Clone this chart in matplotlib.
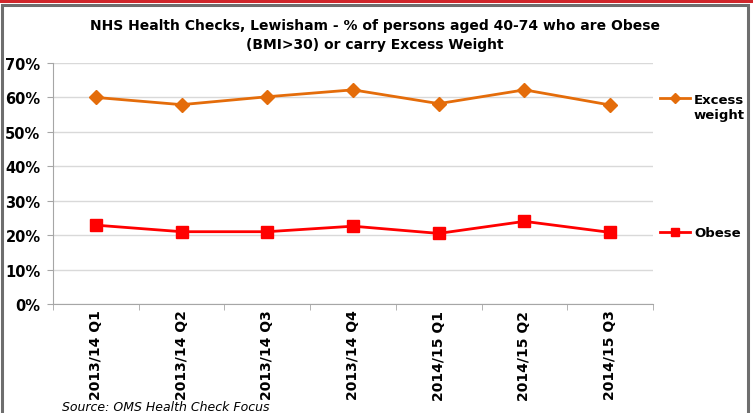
import matplotlib.pyplot as plt
from matplotlib.patches import Rectangle
from matplotlib.lines import Line2D
from matplotlib.ticker import PercentFormatter

plt.rcParams['font.family'] = 'DejaVu Sans'

# Data
quarters = ['2013/14 Q1', '2013/14 Q2', '2013/14 Q3', '2013/14 Q4',
            '2014/15 Q1', '2014/15 Q2', '2014/15 Q3']
excess_weight = [60.0, 57.9, 60.2, 62.2, 58.2, 62.2, 57.8]
obese = [22.9, 21.0, 21.0, 22.6, 20.5, 24.0, 20.8]

orange = '#E46C0A'
red = '#FF0000'

fig = plt.figure(figsize=(7.53, 4.14), dpi=100)
ax = fig.add_axes([0.0704, 0.2633, 0.7968, 0.5821])

x = range(len(quarters))
ax.plot(x, excess_weight, color=orange, lw=2, marker='D', markersize=7, zorder=3)
ax.plot(x, obese, color=red, lw=2, marker='s', markersize=8, zorder=3)

ax.set_xlim(-0.5, len(quarters) - 0.5)
ax.set_ylim(0, 70)
ax.set_yticks(range(0, 71, 10))
ax.yaxis.set_major_formatter(PercentFormatter(decimals=0))
ax.grid(axis='y', color='#D9D9D9', lw=1)
ax.set_axisbelow(True)

ax.set_xticks(list(x))
ax.set_xticklabels(quarters, rotation=90, fontsize=10, fontweight='bold')
ax.set_xticks([i - 0.5 for i in range(len(quarters) + 1)], minor=True)
ax.tick_params(axis='x', which='major', length=0, pad=4)
ax.tick_params(axis='x', which='minor', length=4, color='#A6A6A6')
ax.tick_params(axis='y', length=4, color='#A6A6A6', labelsize=10.5, pad=5)
for lab in ax.get_yticklabels():
    lab.set_fontweight('bold')

for side in ['top', 'right']:
    ax.spines[side].set_visible(False)
for side in ['left', 'bottom']:
    ax.spines[side].set_color('#A6A6A6')

fig.suptitle('NHS Health Checks, Lewisham - % of persons aged 40-74 who are Obese\n(BMI>30) or carry Excess Weight',
             x=0.498, y=0.955, fontsize=10, fontweight='bold', linespacing=1.5)

# Legend entries placed beside the series, as in the original
h_ex = Line2D([], [], color=orange, lw=2, marker='D', markersize=5)
h_ob = Line2D([], [], color=red, lw=2, marker='s', markersize=6)
leg1 = ax.legend([h_ex], ['Excess'], loc='center left',
                 bbox_to_anchor=(1.0, 0.85), frameon=False, handlelength=2.3,
                 handletextpad=0.3, borderpad=0,
                 prop={'weight': 'bold', 'size': 9.5})
ax.add_artist(leg1)
ax.annotate('weight', xy=(0, 0), xycoords=leg1.get_texts()[0],
            xytext=(0, -1.5), textcoords='offset points', va='top', ha='left',
            fontsize=9.5, fontweight='bold', zorder=10, annotation_clip=False)
ax.legend([h_ob], ['Obese'], loc='center left', bbox_to_anchor=(1.0, 0.295),
          frameon=False, handlelength=2.3, handletextpad=0.3, borderpad=0,
          prop={'weight': 'bold', 'size': 9.5})

fig.text(0.082, 0.015, 'Source: OMS Health Check Focus', fontsize=9,
         style='italic', va='center', ha='left')

# Outer frame
fig.patches.append(Rectangle((0.003, -0.1), 0.99, 1.085, transform=fig.transFigure,
                             fill=False, edgecolor='#6E6E6E', lw=2.2))
fig.patches.append(Rectangle((0, 0.99), 1, 0.012, transform=fig.transFigure,
                             facecolor='#D0262B', edgecolor='none'))

fig.savefig('out.png', dpi=100)
